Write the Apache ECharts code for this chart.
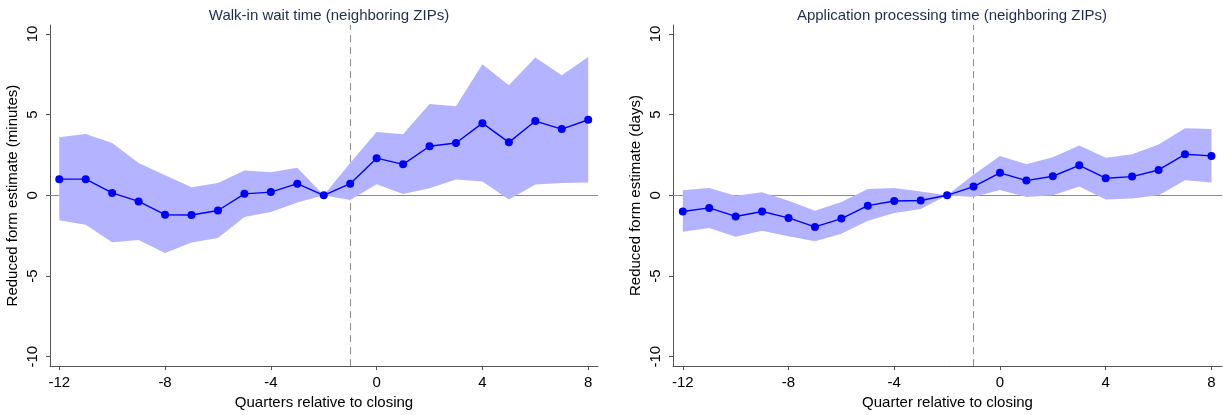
<!DOCTYPE html>
<html>
<head>
<meta charset="utf-8">
<style>
html,body{margin:0;padding:0;background:#fff;}
#chart{width:1223px;height:415px;}
</style>
<script src="https://cdn.jsdelivr.net/npm/echarts@6/dist/echarts.min.js"></script>
</head>
<body>
<div id="chart"></div>
<script>
// ---- data ----
const quarters = [-12,-11,-10,-9,-8,-7,-6,-5,-4,-3,-2,-1,0,1,2,3,4,5,6,7,8];

const walkEst   = [1.0, 1.0, 0.15, -0.38, -1.2, -1.22, -0.94, 0.09, 0.2, 0.72, 0, 0.72, 2.3, 1.92, 3.04, 3.24, 4.47, 3.28, 4.6, 4.1, 4.68];
const walkUpper = [3.59, 3.8, 3.24, 2.0, 1.24, 0.5, 0.77, 1.53, 1.43, 1.7, 0, 2.0, 3.92, 3.78, 5.65, 5.52, 8.12, 6.82, 8.53, 7.44, 8.57];
const walkLower = [-1.55, -1.82, -2.91, -2.77, -3.57, -2.93, -2.64, -1.35, -1.04, -0.45, 0, -0.29, 0.68, 0.08, 0.44, 0.98, 0.85, -0.26, 0.67, 0.77, 0.79];

const procEst   = [-1.0, -0.78, -1.31, -1.0, -1.4, -1.96, -1.44, -0.64, -0.35, -0.32, 0, 0.54, 1.39, 0.91, 1.18, 1.86, 1.06, 1.16, 1.57, 2.54, 2.44];
const procUpper = [0.32, 0.46, -0.02, 0.19, -0.33, -0.96, -0.41, 0.39, 0.46, 0.24, 0, 1.28, 2.43, 1.92, 2.35, 3.09, 2.33, 2.54, 3.15, 4.15, 4.1];
const procLower = [-2.25, -2.02, -2.56, -2.2, -2.53, -2.85, -2.38, -1.58, -1.09, -0.85, 0, -0.1, 0.33, -0.1, 0.0, 0.55, -0.26, -0.2, 0.0, 0.93, 0.79];

const xTicks = [-12, -8, -4, 0, 4, 8];
const yTicks = [-10, -5, 0, 5, 10];

const titles = ['Walk-in wait time (neighboring ZIPs)', 'Application processing time (neighboring ZIPs)'];
const xNames = ['Quarters relative to closing', 'Quarter relative to closing'];
const yNames = ['Reduced form estimate (minutes)', 'Reduced form estimate (days)'];
const closingLine = -1;

// ---- styling ----
const FONT = '"Liberation Sans", Arial, Helvetica, sans-serif';
const FS = 15;
const AXIS_COLOR = '#555555';
const BAND = '#b3b3ff';
const BLUE = '#0000ff';

const chart = echarts.init(document.getElementById('chart'), null, {renderer: 'canvas'});

function xAxisOpt(idx, min, max) {
  return {
    type: 'value', gridIndex: idx, min: min, max: max,
    name: xNames[idx], nameLocation: 'middle', nameGap: 25,
    nameTextStyle: {fontFamily: FONT, fontSize: FS, color: '#000'},
    axisLine: {show: true, onZero: false, lineStyle: {color: AXIS_COLOR, width: 1}},
    axisTick: {show: true, length: 4, lineStyle: {color: AXIS_COLOR}, customValues: xTicks},
    axisLabel: {fontFamily: FONT, fontSize: FS, color: '#000', margin: 9, customValues: xTicks,
      formatter: v => String(v)},
    splitLine: {show: false}
  };
}
function yAxisOpt(idx) {
  return {
    type: 'value', gridIndex: idx, min: -10.58, max: 10.55,
    name: yNames[idx], nameLocation: 'middle', nameGap: 30,
    nameTextStyle: {fontFamily: FONT, fontSize: FS, color: '#000'},
    axisLine: {show: true, onZero: false, lineStyle: {color: AXIS_COLOR, width: 1}},
    axisTick: {show: true, length: 4, lineStyle: {color: AXIS_COLOR}, customValues: yTicks},
    axisLabel: {fontFamily: FONT, fontSize: FS, color: '#000', margin: 10, rotate: 90,
      customValues: yTicks, formatter: v => String(v)},
    splitLine: {show: false}
  };
}

function bandSeries(idx, lower, upper) {
  return {
    type: 'custom', xAxisIndex: idx, yAxisIndex: idx, z: 2, silent: true,
    data: quarters.map((q, i) => [q, lower[i], upper[i]]),
    encode: {x: 0, y: [1, 2]},
    renderItem: function (params, api) {
      if (params.dataIndex !== 0) return null;
      const pts = [];
      for (let i = 0; i < quarters.length; i++) pts.push(api.coord([quarters[i], upper[i]]));
      for (let i = quarters.length - 1; i >= 0; i--) pts.push(api.coord([quarters[i], lower[i]]));
      return {type: 'polygon', shape: {points: pts}, style: {fill: BAND, stroke: null}};
    }
  };
}

function refSeries(idx) {
  return {
    type: 'line', xAxisIndex: idx, yAxisIndex: idx, z: 1, silent: true,
    data: [], symbol: 'none',
    markLine: {
      silent: true, symbol: 'none', z: 1, animation: false,
      label: {show: false},
      data: [
        {yAxis: 0, lineStyle: {color: '#8c8c8c', width: 1, type: 'solid'}},
        {xAxis: closingLine, lineStyle: {color: '#8c8c8c', width: 1, type: [7, 5]}}
      ]
    }
  };
}

function estSeries(idx, est) {
  return {
    type: 'line', xAxisIndex: idx, yAxisIndex: idx, z: 3,
    data: quarters.map((q, i) => [q, est[i]]),
    symbol: 'circle', symbolSize: 8,
    itemStyle: {color: BLUE},
    lineStyle: {color: BLUE, width: 1.4},
    animation: false
  };
}

const option = {
  backgroundColor: '#ffffff',
  animation: false,
  title: [
    {text: titles[0], left: 324, top: 3, textAlign: 'center',
      textStyle: {fontFamily: FONT, fontSize: FS, fontWeight: 'normal', color: '#1e2e50'}},
    {text: titles[1], left: 947, top: 3, textAlign: 'center',
      textStyle: {fontFamily: FONT, fontSize: FS, fontWeight: 'normal', color: '#1e2e50'}}
  ],
  grid: [
    {left: 50, right: 625, top: 25, bottom: 47, containLabel: false},
    {left: 673, right: 1, top: 25, bottom: 47, containLabel: false}
  ],
  xAxis: [xAxisOpt(0, -12.35, 8.37), xAxisOpt(1, -12.37, 8.4)],
  yAxis: [yAxisOpt(0), yAxisOpt(1)],
  series: [
    refSeries(0), bandSeries(0, walkLower, walkUpper), estSeries(0, walkEst),
    refSeries(1), bandSeries(1, procLower, procUpper), estSeries(1, procEst)
  ]
};
chart.setOption(option);
</script>
</body>
</html>
